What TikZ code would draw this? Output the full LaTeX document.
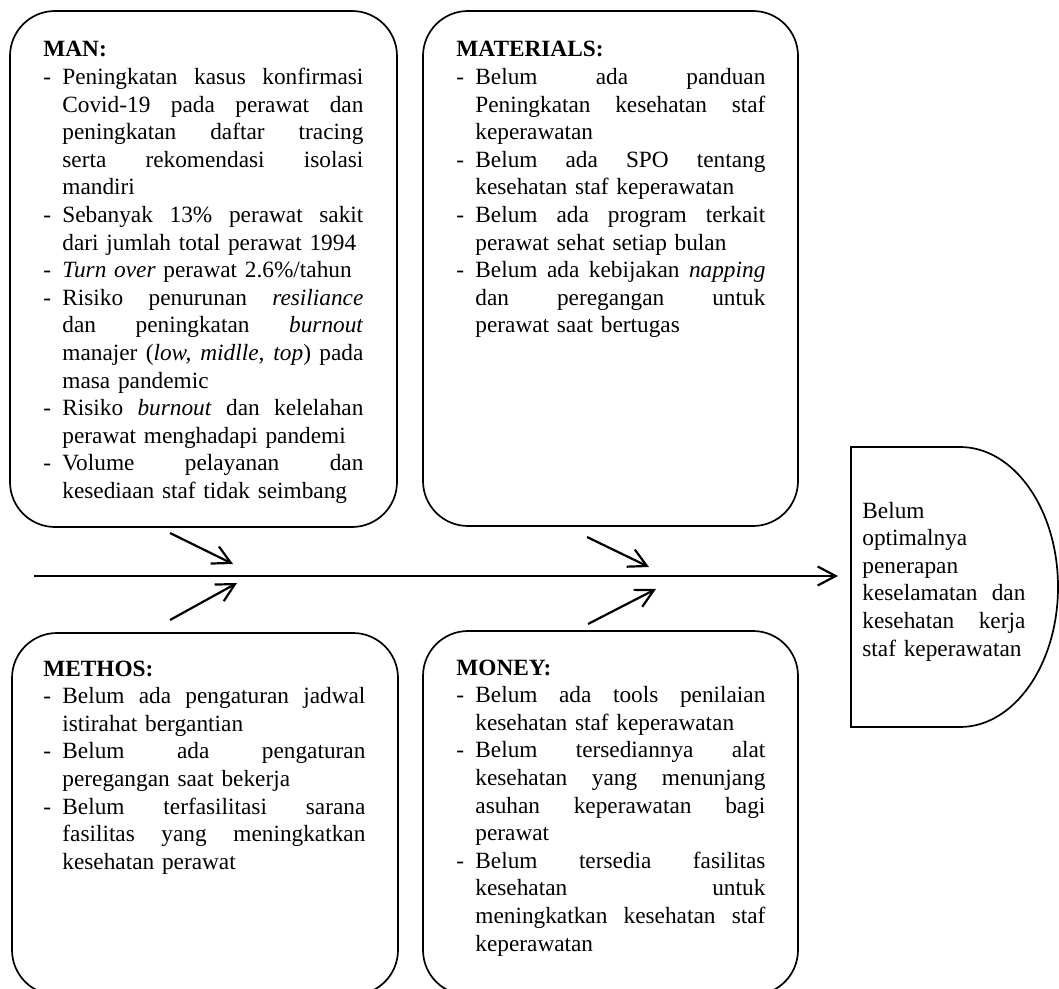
\documentclass[tikz,border=0pt]{standalone}
\usepackage{fontspec}
\setmainfont{Liberation Serif}
\usetikzlibrary{arrows.meta}
\newlength\dashw
\setlength\dashw{9.5pt}
% printed lines: dash column, then the words (\rs spread out, \rl left)
\newcommand{\rs}[2]{\noindent\makebox[\dashw][l]{#1}{\spaceskip=\fontdimen2\font plus 1fil\relax\makebox[\dimexpr\hsize-\dashw\relax][s]{#2}}\par}
\newcommand{\rl}[2]{\noindent\makebox[\dashw][l]{#1}\makebox[\dimexpr\hsize-\dashw\relax][l]{#2}\par}
\begin{document}
\begin{tikzpicture}[x=0.5pt, y=-0.5pt,
    causebox/.style={draw, line width=0.85pt, rounded corners=22.5pt},
    causetxt/.style={anchor=base west, inner sep=0pt, font=\fontsize{11.65pt}{13.8pt}\selectfont},
    bone/.style={-{Straight Barb[length=9pt, width=9.5pt]}, line width=1.1pt}]
    \useasboundingbox (0,0) rectangle (1059,989);

    % boxes
    \draw[causebox] (10,11) rectangle (397,527) ;
    \draw[causebox] (423,11) rectangle (798,526) ;
    \draw[causebox] (12,633) rectangle (398,995) ;
    \draw[causebox] (423,631) rectangle (798,995) ;
    \draw[line width=0.85pt] (851,447) -- (960,447) arc[start angle=90, end angle=-90, x radius=49pt, y radius=70pt] -- (851,727) -- cycle ;

    \node[causetxt, text width=160pt] (man) at (43,57) {\textbf{MAN:}\par
        \rs{-}{Peningkatan kasus konfirmasi}
        \rs{}{Covid-19 pada perawat dan}
        \rs{}{peningkatan daftar tracing}
        \rs{}{serta rekomendasi isolasi}
        \rl{}{mandiri}
        \rs{-}{Sebanyak 13\% perawat sakit}
        \rl{}{dari jumlah total perawat 1994}
        \rl{-}{\textit{Turn over} perawat 2.6\%/tahun}
        \rs{-}{Risiko penurunan \textit{resiliance}}
        \rs{}{dan peningkatan \textit{burnout}}
        \rs{}{manajer (\textit{low, midlle, top}) pada}
        \rl{}{masa pandemic}
        \rs{-}{Risiko \textit{burnout} dan kelelahan}
        \rl{}{perawat menghadapi pandemi}
        \rs{-}{Volume pelayanan dan}
        \rl{}{kesediaan staf tidak seimbang}};

    \node[causetxt, text width=154.5pt] (materials) at (456,57) {\textbf{MATERIALS:}\par
        \rs{-}{Belum ada panduan}
        \rs{}{Peningkatan kesehatan staf}
        \rl{}{keperawatan}
        \rs{-}{Belum ada SPO tentang}
        \rl{}{kesehatan staf keperawatan}
        \rs{-}{Belum ada program terkait}
        \rl{}{perawat sehat setiap bulan}
        \rs{-}{Belum ada kebijakan \textit{napping}}
        \rs{}{dan peregangan untuk}
        \rl{}{perawat saat bertugas}};

    \node[causetxt, text width=161pt] (methos) at (43,676) {\textbf{METHOS:}\par
        \rs{-}{Belum ada pengaturan jadwal}
        \rl{}{istirahat bergantian}
        \rs{-}{Belum ada pengaturan}
        \rl{}{peregangan saat bekerja}
        \rs{-}{Belum terfasilitasi sarana}
        \rs{}{fasilitas yang meningkatkan}
        \rl{}{kesehatan perawat}};

    \node[causetxt, text width=154.5pt] (money) at (456,675) {\textbf{MONEY:}\par
        \rs{-}{Belum ada tools penilaian}
        \rl{}{kesehatan staf keperawatan}
        \rs{-}{Belum tersediannya alat}
        \rs{}{kesehatan yang menunjang}
        \rs{}{asuhan keperawatan bagi}
        \rl{}{perawat}
        \rs{-}{Belum tersedia fasilitas}
        \rs{}{kesehatan untuk}
        \rs{}{meningkatkan kesehatan staf}
        \rl{}{keperawatan}};

    \node[causetxt, text width=81.5pt] (effect) at (862,518) {\setlength\dashw{0pt}%
        \rl{}{Belum}
        \rl{}{optimalnya}
        \rl{}{penerapan}
        \rs{}{keselamatan dan}
        \rs{}{kesehatan kerja}
        \rl{}{staf keperawatan}};

    % spine and bones
    \coordinate (tail) at (34,576) ;
    \coordinate (head) at (838,576) ;
    \coordinate (man1) at (170,533) ;  \coordinate (man2) at (233,564) ;
    \coordinate (met1) at (170,620) ;  \coordinate (met2) at (237,583) ;
    \coordinate (mat1) at (587,537) ;  \coordinate (mat2) at (649,567) ;
    \coordinate (mon1) at (588,624) ;  \coordinate (mon2) at (656,589) ;
    \draw[bone] (tail) -- (head) ;
    \draw[bone] (man1) -- (man2) ;
    \draw[bone] (met1) -- (met2) ;
    \draw[bone] (mat1) -- (mat2) ;
    \draw[bone] (mon1) -- (mon2) ;
\end{tikzpicture}
\end{document}
